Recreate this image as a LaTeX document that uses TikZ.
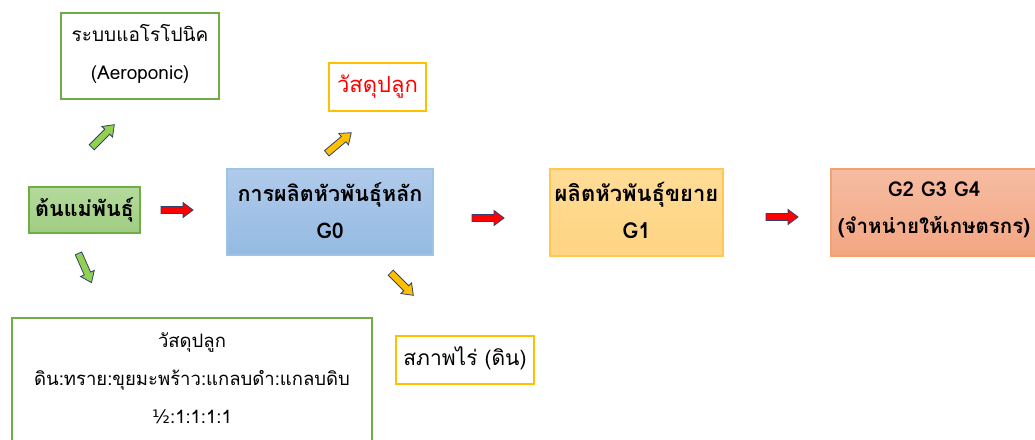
\documentclass[tikz,border=0pt]{standalone}
\usepackage{fontspec}
\setmainfont[Script=Thai]{Loma}
\newfontfamily\symfont{DejaVu Sans}
\definecolor{gline}{HTML}{70AD47}
\definecolor{oline}{HTML}{FFC000}
\definecolor{bline}{HTML}{9DC3E6}
\definecolor{navy}{HTML}{2F3F6F}
\definecolor{rline}{HTML}{F4A070}
\tikzset{
  box/.style={draw, line width=1.6pt, inner sep=0pt, align=center},
  greenbox/.style={box, draw=gline, fill=white},
  orangebox/.style={box, draw=oline, fill=white},
  txt/.style={font=\fontsize{#1}{38}\selectfont, align=center},
  btxt/.style={font=\bfseries\fontsize{#1}{37}\selectfont, align=center},
  blockarrow/.pic={\path[pic actions] (-16,-3.5) -- (6,-3.5) -- (6,-7.5) -- (16,0) -- (6,7.5) -- (6,3.5) -- (-16,3.5) -- cycle;},
  redarr/.style={fill=red, draw=navy, line width=0.8pt},
  greenarr/.style={fill={rgb,255:red,146;green,208;blue,80}, draw=navy, line width=0.8pt},
  orangearr/.style={fill=oline, draw=navy, line width=0.8pt},
}
\begin{document}
\begin{tikzpicture}[x=1pt,y=-1pt]
\useasboundingbox (0,0) rectangle (1035,439);
% boxes
\path[greenbox] (61,13) rectangle (219,99);
\node[txt=19] (aero) at (140,54) {ระบบแอโรโปนิค\\(Aeroponic)};
\path[box, draw=gline, line width=1.2pt, top color={rgb,255:red,180;green,218;blue,156}, bottom color={rgb,255:red,160;green,205;blue,130}] (29,187) rectangle (140,233);
\node[btxt=21.5] (mom) at (84.5,210) {ต้นแม่พันธุ์};
\path[box, draw=bline, line width=1.2pt, top color={rgb,255:red,176;green,202;blue,234}, bottom color={rgb,255:red,148;green,186;blue,226}] (227,169) rectangle (433,255);
\node[btxt=21.5] (g0) at (330,211) {การผลิตหัวพันธุ์หลัก\\G0};
\path[orangebox] (329,63) rectangle (426,111);
\node[txt=22, text=red] (mat1) at (377.5,87) {วัสดุปลูก};
\path[box, draw={rgb,255:red,255;green,200;blue,80}, line width=1.2pt, top color={rgb,255:red,255;green,220;blue,150}, bottom color={rgb,255:red,255;green,212;blue,130}] (550,169) rectangle (723,256);
\node[btxt=22] (g1) at (636.5,210) {ผลิตหัวพันธุ์ขยาย\\G1};
\path[box, draw=rline, line width=1.2pt, top color={rgb,255:red,246;green,188;blue,162}, bottom color={rgb,255:red,243;green,166;blue,130}] (831,169) rectangle (1050,256);
\node[btxt=20.5] (g2) at (934,210) {G2 G3 G4\\(จำหน่ายให้เกษตรกร)};
\path[greenbox] (12,318) rectangle (372,460);
\node[txt=18.5] (mat2) at (192,378) {วัสดุปลูก\\ดิน:ทราย:ขุยมะพร้าว:แกลบดำ:แกลบดิบ\\{\symfont ½}:1:1:1:1};
\path[orangebox] (396,336) rectangle (534,384);
\node[txt=21] (field) at (465,358) {สภาพไร่ (ดิน)};
% arrows
\pic[greenarr, rotate=45] (ag1) at (103,136) {blockarrow};
\pic[greenarr, rotate=-66] (ag2) at (85,268) {blockarrow};
\pic[redarr] (ar1) at (177,210) {blockarrow};
\pic[orangearr, rotate=40] (ao1) at (339,143) {blockarrow};
\pic[orangearr, rotate=-45] (ao2) at (402,284) {blockarrow};
\pic[redarr] (ar2) at (488,218) {blockarrow};
\pic[redarr] (ar3) at (782,217) {blockarrow};
\end{tikzpicture}
\end{document}
